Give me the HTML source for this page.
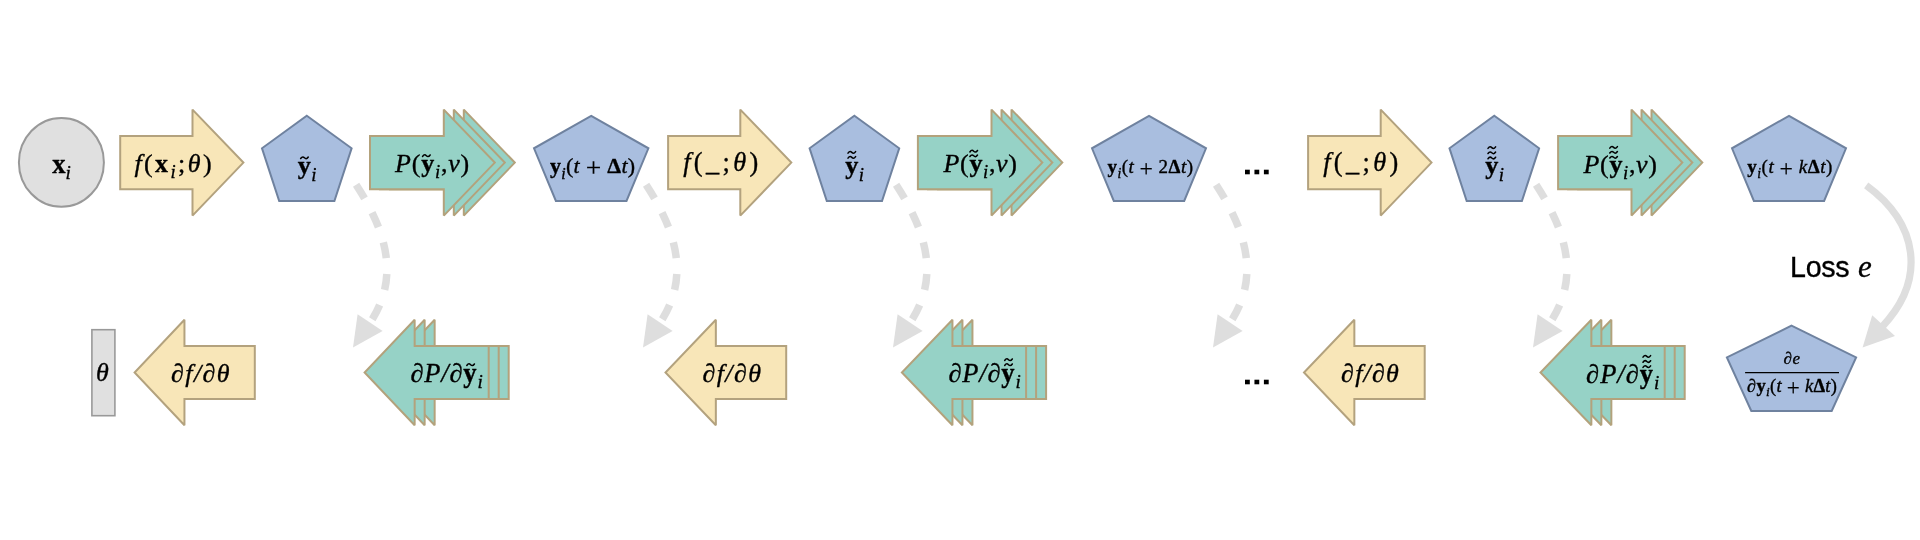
<!DOCTYPE html>
<html><head><meta charset="utf-8"><style>
html,body{margin:0;padding:0;background:#fff;width:1920px;height:540px;overflow:hidden}
svg{display:block;will-change:transform}
text{font-family:"Liberation Serif", serif; fill:#000; stroke:#000; stroke-width:0.35px}
</style></head><body>
<svg width="1920" height="540" viewBox="0 0 1920 540">
<rect width="1920" height="540" fill="#fff"/>
<ellipse cx="61.4" cy="162.4" rx="42.5" ry="44.4" fill="#E0E0E0" stroke="#999999" stroke-width="2"/>
<path d="M120.2,136.0 L192.5,136.0 L192.5,109.6 L243.4,162.6 L192.5,215.6 L192.5,189.2 L120.2,189.2 Z" fill="#F8E6B8" stroke="#B3A27E" stroke-width="2.0" stroke-miterlimit="2"/>
<polygon points="306.8,115.8 351.6,148.3 334.4,201.0 279.2,201.0 262.0,148.3" fill="#A9BEDF" stroke="#6F829F" stroke-width="2.0" stroke-miterlimit="2"/>
<path d="M390,136.0 L463.8,136.0 L463.8,109.6 L514.8,162.6 L463.8,215.6 L463.8,189.2 L390,189.2 Z" fill="#96D2C6" stroke="#B3A27C" stroke-width="2.0" stroke-miterlimit="2"/>
<path d="M380,136.0 L453.8,136.0 L453.8,109.6 L504.8,162.6 L453.8,215.6 L453.8,189.2 L380,189.2 Z" fill="#96D2C6" stroke="#B3A27C" stroke-width="2.0" stroke-miterlimit="2"/>
<path d="M370,136.0 L443.8,136.0 L443.8,109.6 L494.8,162.6 L443.8,215.6 L443.8,189.2 L370,189.2 Z" fill="#96D2C6" stroke="#B3A27C" stroke-width="2.0" stroke-miterlimit="2"/>
<polygon points="591.2,115.8 648.4,148.3 626.5,201.0 555.9,201.0 534.0,148.3" fill="#A9BEDF" stroke="#6F829F" stroke-width="2.0" stroke-miterlimit="2"/>
<path d="M668.1,136.0 L740.3,136.0 L740.3,109.6 L791.3,162.6 L740.3,215.6 L740.3,189.2 L668.1,189.2 Z" fill="#F8E6B8" stroke="#B3A27E" stroke-width="2.0" stroke-miterlimit="2"/>
<polygon points="854.4,115.8 899.2,148.3 882.0,201.0 826.8,201.0 809.6,148.3" fill="#A9BEDF" stroke="#6F829F" stroke-width="2.0" stroke-miterlimit="2"/>
<path d="M937.9,136.0 L1011.5,136.0 L1011.5,109.6 L1062.3,162.6 L1011.5,215.6 L1011.5,189.2 L937.9,189.2 Z" fill="#96D2C6" stroke="#B3A27C" stroke-width="2.0" stroke-miterlimit="2"/>
<path d="M927.9,136.0 L1001.5,136.0 L1001.5,109.6 L1052.3,162.6 L1001.5,215.6 L1001.5,189.2 L927.9,189.2 Z" fill="#96D2C6" stroke="#B3A27C" stroke-width="2.0" stroke-miterlimit="2"/>
<path d="M917.9,136.0 L991.5,136.0 L991.5,109.6 L1042.3,162.6 L991.5,215.6 L991.5,189.2 L917.9,189.2 Z" fill="#96D2C6" stroke="#B3A27C" stroke-width="2.0" stroke-miterlimit="2"/>
<polygon points="1149.0,115.8 1206.0,148.3 1184.2,201.0 1113.8,201.0 1092.0,148.3" fill="#A9BEDF" stroke="#6F829F" stroke-width="2.0" stroke-miterlimit="2"/>
<path d="M1308.1,136.0 L1380.7,136.0 L1380.7,109.6 L1431.5,162.6 L1380.7,215.6 L1380.7,189.2 L1308.1,189.2 Z" fill="#F8E6B8" stroke="#B3A27E" stroke-width="2.0" stroke-miterlimit="2"/>
<polygon points="1494.3,115.8 1539.1,148.3 1521.9,201.0 1466.7,201.0 1449.5,148.3" fill="#A9BEDF" stroke="#6F829F" stroke-width="2.0" stroke-miterlimit="2"/>
<path d="M1578.1,136.0 L1651.5,136.0 L1651.5,109.6 L1702.3,162.6 L1651.5,215.6 L1651.5,189.2 L1578.1,189.2 Z" fill="#96D2C6" stroke="#B3A27C" stroke-width="2.0" stroke-miterlimit="2"/>
<path d="M1568.1,136.0 L1641.5,136.0 L1641.5,109.6 L1692.3,162.6 L1641.5,215.6 L1641.5,189.2 L1568.1,189.2 Z" fill="#96D2C6" stroke="#B3A27C" stroke-width="2.0" stroke-miterlimit="2"/>
<path d="M1558.1,136.0 L1631.5,136.0 L1631.5,109.6 L1682.3,162.6 L1631.5,215.6 L1631.5,189.2 L1558.1,189.2 Z" fill="#96D2C6" stroke="#B3A27C" stroke-width="2.0" stroke-miterlimit="2"/>
<polygon points="1789.0,115.8 1846.0,148.3 1824.1,201.0 1753.9,201.0 1732.0,148.3" fill="#A9BEDF" stroke="#6F829F" stroke-width="2.0" stroke-miterlimit="2"/>
<rect x="91.9" y="329.7" width="23" height="86" fill="#E0E0E0" stroke="#999999" stroke-width="1.6"/>
<path d="M254.8,345.9 L184.45,345.9 L184.45,319.7 L134.6,372.5 L184.45,425.3 L184.45,399.1 L254.8,399.1 Z" fill="#F8E6B8" stroke="#B3A27E" stroke-width="2.0" stroke-miterlimit="2"/>
<path d="M508.7,345.9 L434.65,345.9 L434.65,319.7 L384.6,372.5 L434.65,425.3 L434.65,399.1 L508.7,399.1 Z" fill="#96D2C6" stroke="#B3A27C" stroke-width="2.0" stroke-miterlimit="2"/>
<path d="M498.7,345.9 L424.65,345.9 L424.65,319.7 L374.6,372.5 L424.65,425.3 L424.65,399.1 L498.7,399.1 Z" fill="#96D2C6" stroke="#B3A27C" stroke-width="2.0" stroke-miterlimit="2"/>
<path d="M488.7,345.9 L414.65,345.9 L414.65,319.7 L364.6,372.5 L414.65,425.3 L414.65,399.1 L488.7,399.1 Z" fill="#96D2C6" stroke="#B3A27C" stroke-width="2.0" stroke-miterlimit="2"/>
<path d="M786.2,345.9 L715.85,345.9 L715.85,319.7 L665.5,372.5 L715.85,425.3 L715.85,399.1 L786.2,399.1 Z" fill="#F8E6B8" stroke="#B3A27E" stroke-width="2.0" stroke-miterlimit="2"/>
<path d="M1046.1,345.9 L972.45,345.9 L972.45,319.7 L921.9,372.5 L972.45,425.3 L972.45,399.1 L1046.1,399.1 Z" fill="#96D2C6" stroke="#B3A27C" stroke-width="2.0" stroke-miterlimit="2"/>
<path d="M1036.1,345.9 L962.45,345.9 L962.45,319.7 L911.9,372.5 L962.45,425.3 L962.45,399.1 L1036.1,399.1 Z" fill="#96D2C6" stroke="#B3A27C" stroke-width="2.0" stroke-miterlimit="2"/>
<path d="M1026.1,345.9 L952.45,345.9 L952.45,319.7 L901.9,372.5 L952.45,425.3 L952.45,399.1 L1026.1,399.1 Z" fill="#96D2C6" stroke="#B3A27C" stroke-width="2.0" stroke-miterlimit="2"/>
<path d="M1424.7,345.9 L1354.35,345.9 L1354.35,319.7 L1304.0,372.5 L1354.35,425.3 L1354.35,399.1 L1424.7,399.1 Z" fill="#F8E6B8" stroke="#B3A27E" stroke-width="2.0" stroke-miterlimit="2"/>
<path d="M1684.7,345.9 L1611.35,345.9 L1611.35,319.7 L1560.5,372.5 L1611.35,425.3 L1611.35,399.1 L1684.7,399.1 Z" fill="#96D2C6" stroke="#B3A27C" stroke-width="2.0" stroke-miterlimit="2"/>
<path d="M1674.7,345.9 L1601.35,345.9 L1601.35,319.7 L1550.5,372.5 L1601.35,425.3 L1601.35,399.1 L1674.7,399.1 Z" fill="#96D2C6" stroke="#B3A27C" stroke-width="2.0" stroke-miterlimit="2"/>
<path d="M1664.7,345.9 L1591.35,345.9 L1591.35,319.7 L1540.5,372.5 L1591.35,425.3 L1591.35,399.1 L1664.7,399.1 Z" fill="#96D2C6" stroke="#B3A27C" stroke-width="2.0" stroke-miterlimit="2"/>
<polygon points="1791.5,325.7 1856.1,357.4 1831.7,411.0 1751.3,411.0 1726.9,357.4" fill="#A9BEDF" stroke="#6F829F" stroke-width="2.0" stroke-miterlimit="2"/>
<rect x="1245.00" y="169.7" width="4.8" height="4.6" fill="#000"/>
<rect x="1254.45" y="169.7" width="4.8" height="4.6" fill="#000"/>
<rect x="1263.90" y="169.7" width="4.8" height="4.6" fill="#000"/>
<rect x="1245.00" y="379.7" width="4.8" height="4.6" fill="#000"/>
<rect x="1254.45" y="379.7" width="4.8" height="4.6" fill="#000"/>
<rect x="1263.90" y="379.7" width="4.8" height="4.6" fill="#000"/>
<g transform="translate(0,0)"><path d="M355,183 C386,230 400.4,276.8 370.5,322" fill="none" stroke="#DEDEDE" stroke-width="7.5" stroke-dasharray="16 16" stroke-dashoffset="-2"/><polygon points="357.6,314.3 382.6,330.9 353,347.6" fill="#DEDEDE"/></g>
<g transform="translate(290,0)"><path d="M355,183 C386,230 400.4,276.8 370.5,322" fill="none" stroke="#DEDEDE" stroke-width="7.5" stroke-dasharray="16 16" stroke-dashoffset="-2"/><polygon points="357.6,314.3 382.6,330.9 353,347.6" fill="#DEDEDE"/></g>
<g transform="translate(540,0)"><path d="M355,183 C386,230 400.4,276.8 370.5,322" fill="none" stroke="#DEDEDE" stroke-width="7.5" stroke-dasharray="16 16" stroke-dashoffset="-2"/><polygon points="357.6,314.3 382.6,330.9 353,347.6" fill="#DEDEDE"/></g>
<g transform="translate(860,0)"><path d="M355,183 C386,230 400.4,276.8 370.5,322" fill="none" stroke="#DEDEDE" stroke-width="7.5" stroke-dasharray="16 16" stroke-dashoffset="-2"/><polygon points="357.6,314.3 382.6,330.9 353,347.6" fill="#DEDEDE"/></g>
<g transform="translate(1180,0)"><path d="M355,183 C386,230 400.4,276.8 370.5,322" fill="none" stroke="#DEDEDE" stroke-width="7.5" stroke-dasharray="16 16" stroke-dashoffset="-2"/><polygon points="357.6,314.3 382.6,330.9 353,347.6" fill="#DEDEDE"/></g>
<path d="M1866.2,185.4 C1917.8,223.1 1927.3,278.8 1882,327" fill="none" stroke="#DEDEDE" stroke-width="7.2"/>
<polygon points="1872.2,315.2 1895,336.1 1862.6,347.6" fill="#DEDEDE"/>
<text x="52.30" y="172.5" style="font-size:26.60px" textLength="18.62" lengthAdjust="spacing"><tspan style="font-weight:bold;font-style:normal">x</tspan><tspan style="font-style:italic;font-size:19.15px" dy="6.65">i</tspan></text>
<text x="134.40" y="171.8" style="font-size:26.00px" textLength="77.20" lengthAdjust="spacing"><tspan style="font-style:italic">f</tspan><tspan style="font-style:normal">(</tspan><tspan style="font-weight:bold;font-style:normal">x</tspan><tspan style="font-style:italic;font-size:18.72px" dy="6.5">i</tspan><tspan style="font-style:normal" dy="-6.5">;</tspan><tspan style="font-style:italic">θ</tspan><tspan style="font-style:normal">)</tspan></text>
<text x="297.70" y="173.7" style="font-size:26.20px" textLength="18.91" lengthAdjust="spacing"><tspan style="font-weight:bold;font-style:normal">y</tspan><tspan style="font-style:italic;font-size:18.86px" dy="7.07">i</tspan></text>
<text x="395.00" y="171.8" style="font-size:26.00px" textLength="74.28" lengthAdjust="spacing"><tspan style="font-style:italic">P</tspan><tspan style="font-style:normal">(</tspan><tspan style="font-weight:bold;font-style:normal">y</tspan><tspan style="font-style:italic;font-size:18.72px" dy="6.5">i</tspan><tspan style="font-style:normal" dy="-6.5">,</tspan><tspan style="font-style:italic">ν</tspan><tspan style="font-style:normal">)</tspan></text>
<text x="550.00" y="173.3" style="font-size:22.00px" textLength="85.13" lengthAdjust="spacing"><tspan style="font-weight:bold;font-style:normal">y</tspan><tspan style="font-style:italic;font-size:15.84px" dy="5.5">i</tspan><tspan style="font-style:normal" dy="-5.5">(</tspan><tspan style="font-style:italic">t</tspan><tspan style="font-style:normal"> </tspan><tspan style="font-style:normal;font-size:27.50px;stroke-width:0.2px" dy="3.3">+</tspan><tspan style="font-style:normal" dy="-3.3"> </tspan><tspan style="font-weight:bold;font-style:normal">Δ</tspan><tspan style="font-style:italic">t</tspan><tspan style="font-style:normal">)</tspan></text>
<text x="683.20" y="171.3" style="font-size:26.30px" textLength="75.02" lengthAdjust="spacing"><tspan style="font-style:italic">f</tspan><tspan style="font-style:normal">(_;</tspan><tspan style="font-style:italic">θ</tspan><tspan style="font-style:normal">)</tspan></text>
<text x="845.19" y="173.7" style="font-size:26.20px" textLength="18.91" lengthAdjust="spacing"><tspan style="font-weight:bold;font-style:normal">y</tspan><tspan style="font-style:italic;font-size:18.86px" dy="7.07">i</tspan></text>
<text x="943.50" y="171.8" style="font-size:26.00px" textLength="73.48" lengthAdjust="spacing"><tspan style="font-style:italic">P</tspan><tspan style="font-style:normal">(</tspan><tspan style="font-weight:bold;font-style:normal">y</tspan><tspan style="font-style:italic;font-size:18.72px" dy="6.5">i</tspan><tspan style="font-style:normal" dy="-6.5">,</tspan><tspan style="font-style:italic">ν</tspan><tspan style="font-style:normal">)</tspan></text>
<text x="1107.60" y="173.3" style="font-size:19.00px" textLength="85.37" lengthAdjust="spacing"><tspan style="font-weight:bold;font-style:normal">y</tspan><tspan style="font-style:italic;font-size:13.68px" dy="4.75">i</tspan><tspan style="font-style:normal" dy="-4.75">(</tspan><tspan style="font-style:italic">t</tspan><tspan style="font-style:normal"> </tspan><tspan style="font-style:normal;font-size:23.75px;stroke-width:0.2px" dy="2.85">+</tspan><tspan style="font-style:normal" dy="-2.85"> 2</tspan><tspan style="font-weight:bold;font-style:normal">Δ</tspan><tspan style="font-style:italic">t</tspan><tspan style="font-style:normal">)</tspan></text>
<text x="1323.20" y="171.3" style="font-size:26.30px" textLength="75.02" lengthAdjust="spacing"><tspan style="font-style:italic">f</tspan><tspan style="font-style:normal">(_;</tspan><tspan style="font-style:italic">θ</tspan><tspan style="font-style:normal">)</tspan></text>
<text x="1485.19" y="174.0" style="font-size:26.20px" textLength="18.91" lengthAdjust="spacing"><tspan style="font-weight:bold;font-style:normal">y</tspan><tspan style="font-style:italic;font-size:18.86px" dy="7.07">i</tspan></text>
<text x="1583.50" y="172.9" style="font-size:26.00px" textLength="73.48" lengthAdjust="spacing"><tspan style="font-style:italic">P</tspan><tspan style="font-style:normal">(</tspan><tspan style="font-weight:bold;font-style:normal">y</tspan><tspan style="font-style:italic;font-size:18.72px" dy="6.5">i</tspan><tspan style="font-style:normal" dy="-6.5">,</tspan><tspan style="font-style:italic">ν</tspan><tspan style="font-style:normal">)</tspan></text>
<text x="1747.20" y="173.3" style="font-size:19.00px" textLength="85.11" lengthAdjust="spacing"><tspan style="font-weight:bold;font-style:normal">y</tspan><tspan style="font-style:italic;font-size:13.68px" dy="4.75">i</tspan><tspan style="font-style:normal" dy="-4.75">(</tspan><tspan style="font-style:italic">t</tspan><tspan style="font-style:normal"> </tspan><tspan style="font-style:normal;font-size:23.75px;stroke-width:0.2px" dy="2.85">+</tspan><tspan style="font-style:normal" dy="-2.85"> </tspan><tspan style="font-style:italic">k</tspan><tspan style="font-weight:bold;font-style:normal">Δ</tspan><tspan style="font-style:italic">t</tspan><tspan style="font-style:normal">)</tspan></text>
<text x="95.99" y="381.3" style="font-size:26.00px"><tspan style="font-style:italic">θ</tspan></text>
<text x="171.10" y="381.7" style="font-size:26.00px" textLength="58.52" lengthAdjust="spacing"><tspan style="font-style:italic">∂f/∂θ</tspan></text>
<text x="410.40" y="381.7" style="font-size:26.50px" textLength="72.31" lengthAdjust="spacing"><tspan style="font-style:italic">∂P/∂</tspan><tspan style="font-weight:bold;font-style:normal">y</tspan><tspan style="font-style:italic;font-size:19.08px" dy="6.62">i</tspan></text>
<text x="702.49" y="381.7" style="font-size:26.00px" textLength="58.52" lengthAdjust="spacing"><tspan style="font-style:italic">∂f/∂θ</tspan></text>
<text x="948.40" y="381.6" style="font-size:26.50px" textLength="72.31" lengthAdjust="spacing"><tspan style="font-style:italic">∂P/∂</tspan><tspan style="font-weight:bold;font-style:normal">y</tspan><tspan style="font-style:italic;font-size:19.08px" dy="6.62">i</tspan></text>
<text x="1341.09" y="381.7" style="font-size:26.00px" textLength="57.72" lengthAdjust="spacing"><tspan style="font-style:italic">∂f/∂θ</tspan></text>
<text x="1586.10" y="382.8" style="font-size:26.50px" textLength="73.11" lengthAdjust="spacing"><tspan style="font-style:italic">∂P/∂</tspan><tspan style="font-weight:bold;font-style:normal">y</tspan><tspan style="font-style:italic;font-size:19.08px" dy="6.62">i</tspan></text>
<text x="1783.39" y="363.8" style="font-size:17.00px" textLength="16.75" lengthAdjust="spacing"><tspan style="font-style:italic">∂e</tspan></text>
<text x="1747.09" y="391.8" style="font-size:18.50px" textLength="89.85" lengthAdjust="spacing"><tspan style="font-style:italic">∂</tspan><tspan style="font-weight:bold;font-style:normal">y</tspan><tspan style="font-style:italic;font-size:13.32px" dy="4.62">i</tspan><tspan style="font-style:normal" dy="-4.62">(</tspan><tspan style="font-style:italic">t</tspan><tspan style="font-style:normal"> </tspan><tspan style="font-style:normal;font-size:23.12px;stroke-width:0.2px" dy="2.77">+</tspan><tspan style="font-style:normal" dy="-2.77"> </tspan><tspan style="font-style:italic">k</tspan><tspan style="font-weight:bold;font-style:normal">Δ</tspan><tspan style="font-style:italic">t</tspan><tspan style="font-style:normal">)</tspan></text>
<text x="1789.99" y="277.3" style="font-size:28.60px" textLength="59.67" lengthAdjust="spacing"><tspan style="font-family:'Liberation Sans', sans-serif;font-style:normal">Loss</tspan></text>
<text x="1858.00" y="277.3" style="font-size:31.00px"><tspan style="font-style:italic">e</tspan></text>
<line x1="1745.1" y1="372.6" x2="1839" y2="372.6" stroke="#000" stroke-width="1.4"/>
<path d="M300.65,158.55 C302.32,156.15 303.54,156.90 304.45,157.80 C305.36,158.70 306.58,159.45 308.25,157.05" fill="none" stroke="#000" stroke-width="1.55" stroke-linecap="round"/>
<path d="M848.00,153.15 C849.67,150.75 850.89,151.50 851.80,152.40 C852.71,153.30 853.93,154.05 855.60,151.65" fill="none" stroke="#000" stroke-width="1.55" stroke-linecap="round"/>
<path d="M848.00,158.15 C849.67,155.75 850.89,156.50 851.80,157.40 C852.71,158.30 853.93,159.05 855.60,156.65" fill="none" stroke="#000" stroke-width="1.55" stroke-linecap="round"/>
<path d="M1488.00,148.35 C1489.67,145.95 1490.89,146.70 1491.80,147.60 C1492.71,148.50 1493.93,149.25 1495.60,146.85" fill="none" stroke="#000" stroke-width="1.55" stroke-linecap="round"/>
<path d="M1488.00,153.55 C1489.67,151.15 1490.89,151.90 1491.80,152.80 C1492.71,153.70 1493.93,154.45 1495.60,152.05" fill="none" stroke="#000" stroke-width="1.55" stroke-linecap="round"/>
<path d="M1488.00,158.75 C1489.67,156.35 1490.89,157.10 1491.80,158.00 C1492.71,158.90 1493.93,159.65 1495.60,157.25" fill="none" stroke="#000" stroke-width="1.55" stroke-linecap="round"/>
<path d="M422.55,156.45 C424.22,154.05 425.44,154.80 426.35,155.70 C427.26,156.60 428.48,157.35 430.15,154.95" fill="none" stroke="#000" stroke-width="1.55" stroke-linecap="round"/>
<path d="M969.90,151.95 C971.57,149.55 972.79,150.30 973.70,151.20 C974.61,152.10 975.83,152.85 977.50,150.45" fill="none" stroke="#000" stroke-width="1.55" stroke-linecap="round"/>
<path d="M969.90,156.55 C971.57,154.15 972.79,154.90 973.70,155.80 C974.61,156.70 975.83,157.45 977.50,155.05" fill="none" stroke="#000" stroke-width="1.55" stroke-linecap="round"/>
<path d="M1609.80,148.15 C1611.47,145.75 1612.69,146.50 1613.60,147.40 C1614.51,148.30 1615.73,149.05 1617.40,146.65" fill="none" stroke="#000" stroke-width="1.55" stroke-linecap="round"/>
<path d="M1609.80,153.05 C1611.47,150.65 1612.69,151.40 1613.60,152.30 C1614.51,153.20 1615.73,153.95 1617.40,151.55" fill="none" stroke="#000" stroke-width="1.55" stroke-linecap="round"/>
<path d="M1609.80,158.05 C1611.47,155.65 1612.69,156.40 1613.60,157.30 C1614.51,158.20 1615.73,158.95 1617.40,156.55" fill="none" stroke="#000" stroke-width="1.55" stroke-linecap="round"/>
<path d="M466.80,365.45 C468.47,363.05 469.69,363.80 470.60,364.70 C471.51,365.60 472.73,366.35 474.40,363.95" fill="none" stroke="#000" stroke-width="1.55" stroke-linecap="round"/>
<path d="M1004.70,360.45 C1006.37,358.05 1007.59,358.80 1008.50,359.70 C1009.41,360.60 1010.63,361.35 1012.30,358.95" fill="none" stroke="#000" stroke-width="1.55" stroke-linecap="round"/>
<path d="M1004.70,365.45 C1006.37,363.05 1007.59,363.80 1008.50,364.70 C1009.41,365.60 1010.63,366.35 1012.30,363.95" fill="none" stroke="#000" stroke-width="1.55" stroke-linecap="round"/>
<path d="M1643.00,357.15 C1644.67,354.75 1645.89,355.50 1646.80,356.40 C1647.71,357.30 1648.93,358.05 1650.60,355.65" fill="none" stroke="#000" stroke-width="1.55" stroke-linecap="round"/>
<path d="M1643.00,362.25 C1644.67,359.85 1645.89,360.60 1646.80,361.50 C1647.71,362.40 1648.93,363.15 1650.60,360.75" fill="none" stroke="#000" stroke-width="1.55" stroke-linecap="round"/>
<path d="M1643.00,367.35 C1644.67,364.95 1645.89,365.70 1646.80,366.60 C1647.71,367.50 1648.93,368.25 1650.60,365.85" fill="none" stroke="#000" stroke-width="1.55" stroke-linecap="round"/>
</svg></body></html>
